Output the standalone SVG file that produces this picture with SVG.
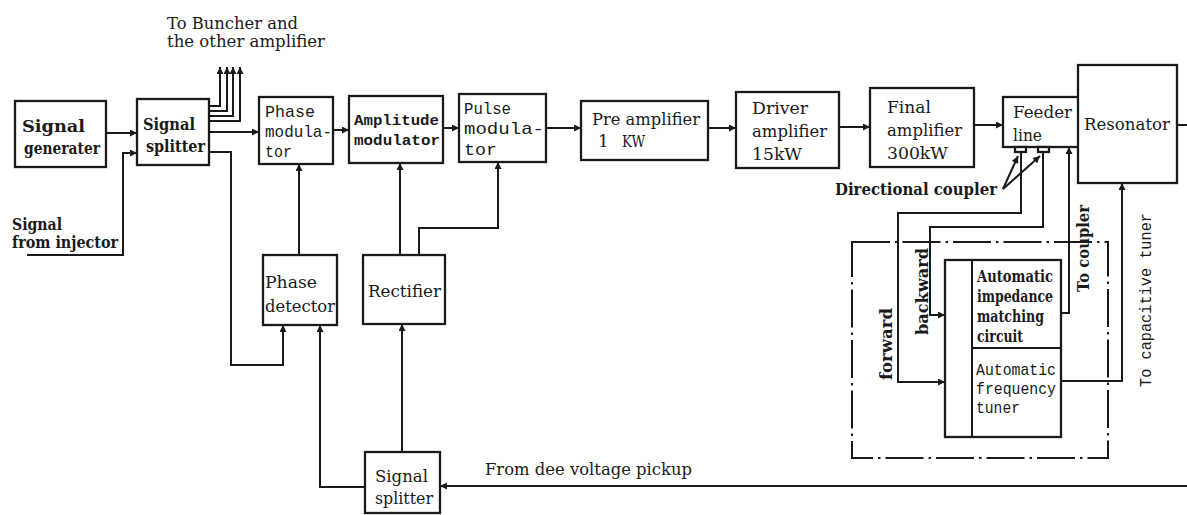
<svg xmlns="http://www.w3.org/2000/svg" width="1187" height="515" viewBox="0 0 1187 515">
<style>
.bx{fill:#fff;stroke:#1a1a1a;stroke-width:2.3}
.ln{fill:none;stroke:#1a1a1a;stroke-width:2}
.dd{fill:none;stroke:#1a1a1a;stroke-width:2;stroke-dasharray:38 5 2.5 5}
.s{font-family:"DejaVu Serif",serif;font-size:17px;fill:#1a1a1a}
.sb{font-family:"DejaVu Serif",serif;font-size:16px;font-weight:bold;fill:#1a1a1a}
.m{font-family:"Liberation Mono",monospace;font-size:17px;fill:#1a1a1a}
.mb{font-family:"Liberation Mono",monospace;font-size:15px;font-weight:bold;fill:#1a1a1a}
</style>
<defs>
<marker id="ah" viewBox="0 0 10 10" refX="10" refY="5" markerWidth="8" markerHeight="7" orient="auto" markerUnits="userSpaceOnUse"><path d="M0,0 L10,5 L0,10 z" fill="#1a1a1a"/></marker>
</defs>
<rect width="1187" height="515" fill="#fff"/>

<g id="connectors">
<path class="ln" d="M106,133 H137" marker-end="url(#ah)"/>
<path class="ln" d="M27,255 H123 V153 H137" marker-end="url(#ah)"/>
<path class="ln" d="M209,106 H220 V67" marker-end="url(#ah)"/>
<path class="ln" d="M209,111 H227 V67" marker-end="url(#ah)"/>
<path class="ln" d="M209,116 H233 V67" marker-end="url(#ah)"/>
<path class="ln" d="M209,121 H240 V67" marker-end="url(#ah)"/>
<path class="ln" d="M209,132 H259" marker-end="url(#ah)"/>
<path class="ln" d="M209,152 H231 V365 H283 V325" marker-end="url(#ah)"/>
<path class="ln" d="M333,130 H349" marker-end="url(#ah)"/>
<path class="ln" d="M443,128 H459" marker-end="url(#ah)"/>
<path class="ln" d="M546,128 H581" marker-end="url(#ah)"/>
<path class="ln" d="M708,128 H736" marker-end="url(#ah)"/>
<path class="ln" d="M839,127 H870" marker-end="url(#ah)"/>
<path class="ln" d="M974,125 H1003" marker-end="url(#ah)"/>
<path class="ln" d="M1177,125 H1187"/>
<path class="ln" d="M299,255 V164" marker-end="url(#ah)"/>
<path class="ln" d="M400,255 V163" marker-end="url(#ah)"/>
<path class="ln" d="M419,255 V228 H498 V162" marker-end="url(#ah)"/>
<path class="ln" d="M365,487 H320 V325" marker-end="url(#ah)"/>
<path class="ln" d="M402,452 V324" marker-end="url(#ah)"/>
<path class="ln" d="M1187,486 H440" marker-end="url(#ah)"/>
<path class="ln" d="M1021,153 V213 H898 V382 H945" marker-end="url(#ah)"/>
<path class="ln" d="M1043,153 V227 H930 V315 H945" marker-end="url(#ah)"/>
<path class="ln" d="M1061,313 H1069 V147" marker-end="url(#ah)"/>
<path class="ln" d="M1061,381 H1122 V183" marker-end="url(#ah)"/>
<path class="ln" d="M1003,189 L1018,156" marker-end="url(#ah)"/>
<path class="ln" d="M1003,189 L1040,156" marker-end="url(#ah)"/>
<path class="dd" d="M852,242 H1108 V458 H852 Z"/>
</g>

<g id="signal-generator">
<rect class="bx" x="15" y="101" width="91" height="66"/>
<text class="sb" x="22" y="132" font-size="17" textLength="63" lengthAdjust="spacingAndGlyphs">Signal</text>
<text class="sb" x="24" y="154" font-size="17" textLength="76" lengthAdjust="spacingAndGlyphs">generater</text>
</g>

<g id="signal-from-injector">
<text class="sb" x="12" y="230" textLength="50" lengthAdjust="spacingAndGlyphs">Signal</text>
<text class="sb" x="12" y="248" textLength="106" lengthAdjust="spacingAndGlyphs">from injector</text>
</g>

<g id="signal-splitter-1">
<rect class="bx" x="137" y="99" width="72" height="66"/>
<text class="sb" x="143" y="130" font-size="17" textLength="52" lengthAdjust="spacingAndGlyphs">Signal</text>
<text class="sb" x="146" y="152" font-size="17" textLength="59" lengthAdjust="spacingAndGlyphs">splitter</text>
</g>

<g id="to-buncher">
<text class="s" x="167" y="29" font-size="16" textLength="131" lengthAdjust="spacingAndGlyphs">To Buncher and</text>
<text class="s" x="167" y="47" font-size="16" textLength="158" lengthAdjust="spacingAndGlyphs">the other amplifier</text>
</g>

<g id="phase-modulator">
<rect class="bx" x="259" y="97" width="74" height="67"/>
<text class="m" x="265" y="117" textLength="50" lengthAdjust="spacingAndGlyphs">Phase</text>
<text class="m" x="265" y="137" textLength="67" lengthAdjust="spacingAndGlyphs">modula-</text>
<text class="m" x="265" y="157" textLength="27" lengthAdjust="spacingAndGlyphs">tor</text>
</g>

<g id="amplitude-modulator">
<rect class="bx" x="349" y="96" width="94" height="67"/>
<text class="mb" x="354" y="125" textLength="85" lengthAdjust="spacingAndGlyphs">Amplitude</text>
<text class="mb" x="354" y="145" textLength="86" lengthAdjust="spacingAndGlyphs">modulator</text>
</g>

<g id="pulse-modulator">
<rect class="bx" x="459" y="94" width="87" height="68"/>
<text class="m" x="464" y="114" textLength="47" lengthAdjust="spacingAndGlyphs">Pulse</text>
<text class="m" x="464" y="134" textLength="80" lengthAdjust="spacingAndGlyphs">modula-</text>
<text class="m" x="464" y="155" textLength="33" lengthAdjust="spacingAndGlyphs">tor</text>
</g>

<g id="pre-amplifier">
<rect class="bx" x="581" y="101" width="127" height="59"/>
<text class="s" x="592" y="125" textLength="108" lengthAdjust="spacingAndGlyphs">Pre amplifier</text>
<text class="s" y="147"><tspan x="598">1</tspan><tspan x="622" textLength="23" lengthAdjust="spacingAndGlyphs">KW</tspan></text>
</g>

<g id="driver-amplifier">
<rect class="bx" x="736" y="92" width="103" height="76"/>
<text class="s" x="752" y="114" textLength="56" lengthAdjust="spacingAndGlyphs">Driver</text>
<text class="s" x="752" y="137" textLength="75" lengthAdjust="spacingAndGlyphs">amplifier</text>
<text class="s" x="752" y="160" textLength="50" lengthAdjust="spacingAndGlyphs">15kW</text>
</g>

<g id="final-amplifier">
<rect class="bx" x="870" y="88" width="104" height="79"/>
<text class="s" x="887" y="113" textLength="44" lengthAdjust="spacingAndGlyphs">Final</text>
<text class="s" x="887" y="136" textLength="75" lengthAdjust="spacingAndGlyphs">amplifier</text>
<text class="s" x="887" y="159" textLength="61" lengthAdjust="spacingAndGlyphs">300kW</text>
</g>

<g id="feeder-line">
<rect class="bx" x="1003" y="97" width="76" height="50"/>
<text class="s" x="1013" y="118" textLength="59" lengthAdjust="spacingAndGlyphs">Feeder</text>
<text class="s" x="1013" y="141" textLength="29" lengthAdjust="spacingAndGlyphs">line</text>
<rect class="bx" x="1015" y="147" width="11" height="5" stroke-width="1.8"/>
<rect class="bx" x="1038" y="147" width="11" height="5" stroke-width="1.8"/>
</g>

<g id="resonator">
<rect class="bx" x="1078" y="65" width="99" height="118"/>
<text class="s" x="1084" y="130" textLength="86" lengthAdjust="spacingAndGlyphs">Resonator</text>
</g>

<g id="directional-coupler-label">
<text class="sb" x="835" y="195" textLength="162" lengthAdjust="spacingAndGlyphs">Directional coupler</text>
</g>

<g id="phase-detector">
<rect class="bx" x="263" y="255" width="74" height="70"/>
<text class="s" x="265" y="288" textLength="52" lengthAdjust="spacingAndGlyphs">Phase</text>
<text class="s" x="265" y="312" textLength="70" lengthAdjust="spacingAndGlyphs">detector</text>
</g>

<g id="rectifier">
<rect class="bx" x="363" y="255" width="82" height="69"/>
<text class="s" x="368" y="297" textLength="73" lengthAdjust="spacingAndGlyphs">Rectifier</text>
</g>

<g id="signal-splitter-2">
<rect class="bx" x="365" y="452" width="75" height="61"/>
<text class="s" x="375" y="482" textLength="53" lengthAdjust="spacingAndGlyphs">Signal</text>
<text class="s" x="375" y="504" textLength="58" lengthAdjust="spacingAndGlyphs">splitter</text>
</g>

<g id="dee-pickup-label">
<text class="s" x="485" y="475" font-size="16" textLength="207" lengthAdjust="spacingAndGlyphs">From dee voltage pickup</text>
</g>

<g id="aimc-aft">
<rect class="bx" x="945" y="260" width="116" height="177"/>
<path class="ln" d="M972,260 V437 M972,348 H1061"/>
<text class="sb" x="977" y="282" textLength="76" lengthAdjust="spacingAndGlyphs">Automatic</text>
<text class="sb" x="977" y="302" textLength="76" lengthAdjust="spacingAndGlyphs">impedance</text>
<text class="sb" x="977" y="322" textLength="67" lengthAdjust="spacingAndGlyphs">matching</text>
<text class="sb" x="977" y="342" textLength="46" lengthAdjust="spacingAndGlyphs">circuit</text>
<text class="m" x="976" y="375" font-size="15" textLength="80" lengthAdjust="spacingAndGlyphs">Automatic</text>
<text class="m" x="976" y="394" font-size="15" textLength="80" lengthAdjust="spacingAndGlyphs">frequency</text>
<text class="m" x="976" y="413" font-size="15" textLength="44" lengthAdjust="spacingAndGlyphs">tuner</text>
</g>

<g id="rotated-labels">
<text class="sb" x="892" y="380" transform="rotate(-90 892 380)" textLength="72" lengthAdjust="spacingAndGlyphs">forward</text>
<text class="sb" x="928" y="335" transform="rotate(-90 928 335)" textLength="87" lengthAdjust="spacingAndGlyphs">backward</text>
<text class="sb" x="1089" y="292" transform="rotate(-90 1089 292)" textLength="87" lengthAdjust="spacingAndGlyphs">To coupler</text>
<text class="m" x="1151" y="387" font-size="15" transform="rotate(-90 1151 387)" textLength="174" lengthAdjust="spacingAndGlyphs">To capacitive tuner</text>
</g>
</svg>
